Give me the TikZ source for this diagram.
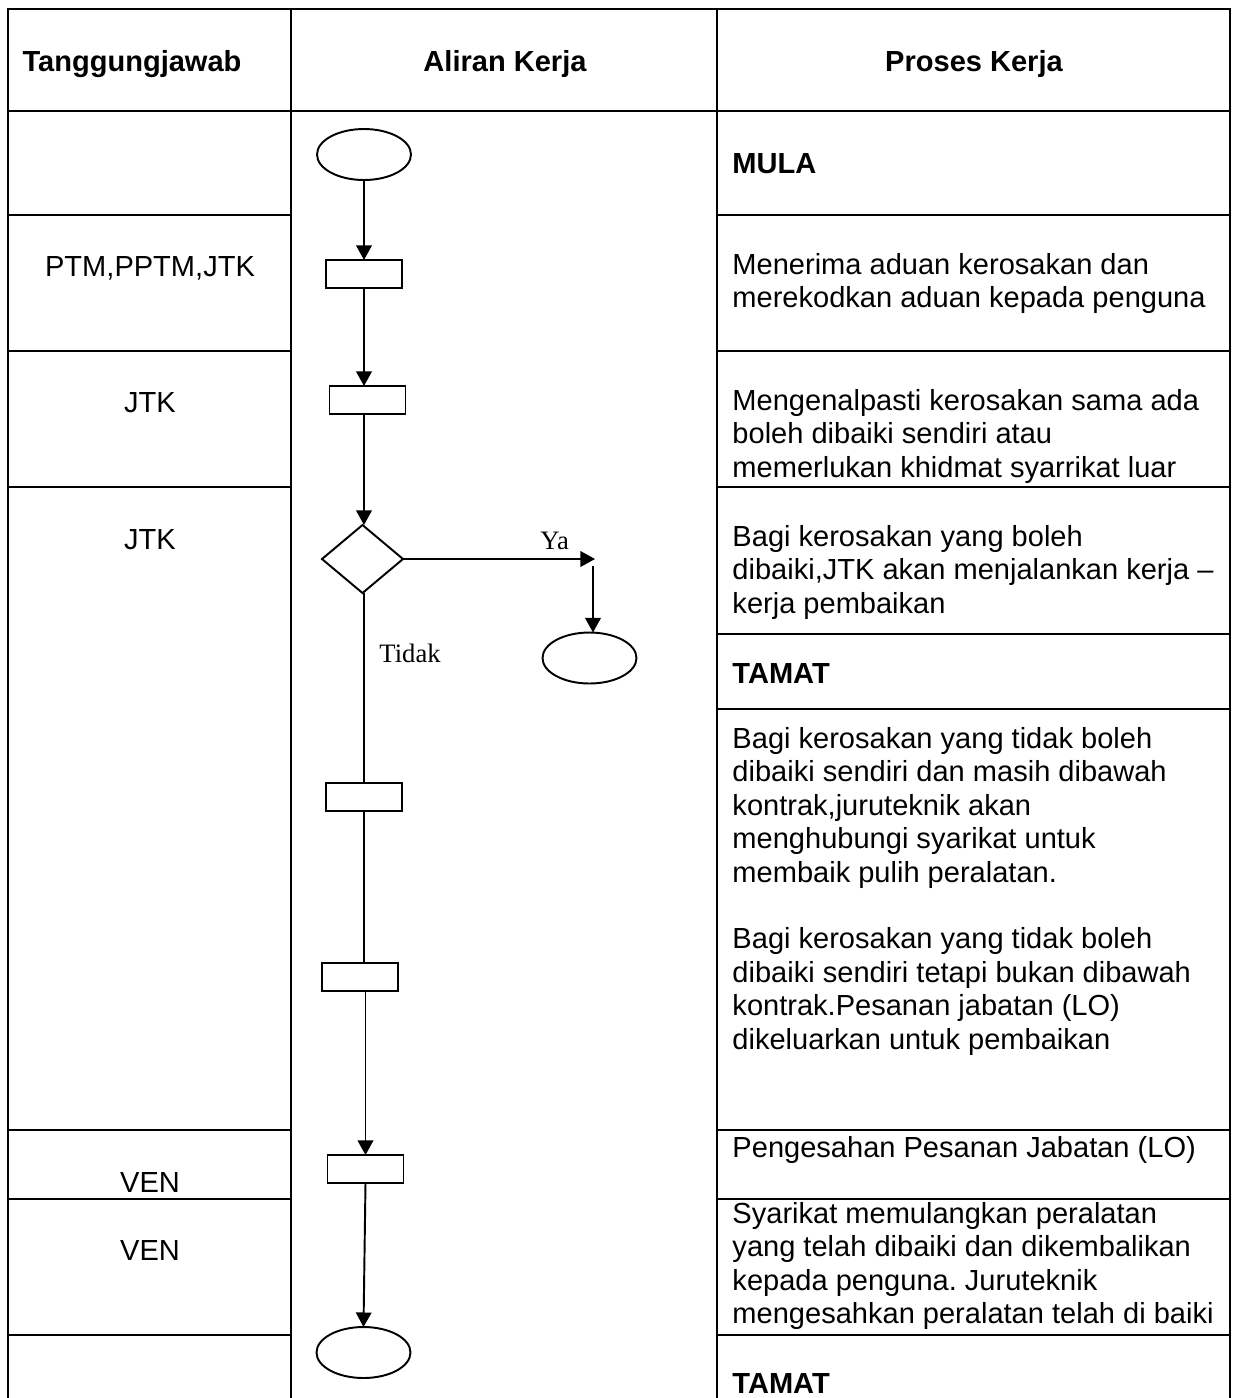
\documentclass[tikz,border=0pt]{standalone}
\usepackage{fontspec}
\setmainfont{Liberation Sans}
\newfontfamily\timesfont{Liberation Serif}
\usetikzlibrary{shapes.geometric, arrows.meta}
\frenchspacing

% one drawing unit
\newdimen\pxu \pxu=0.4132pt

\begin{document}
\begin{tikzpicture}[x=0.4132pt, y=-0.4132pt,
  grid/.style={line width=1.15pt, line cap=rect},
  flow/.style={line width=0.8pt},
  arr/.style={flow, -{Triangle[length=6pt, width=6.4pt]}},
  terminal/.style={draw, flow, ellipse, minimum width=94\pxu, minimum height=51\pxu, inner sep=0pt, outer sep=0pt},
  stepbox/.style={draw, flow, rectangle, minimum width=76\pxu, minimum height=28\pxu, inner sep=0pt, outer sep=0pt},
  decision/.style={draw, flow, diamond, minimum width=81\pxu, minimum height=68\pxu, inner sep=0pt, outer sep=0pt},
  % a cell is placed by the baseline of its first line
  cell/.style={anchor=north west, yshift=9.5pt, align=left, inner sep=0pt,
    font=\fontsize{12}{13.8}\selectfont, execute at begin node={\rule{0pt}{9.5pt}}},
  boldcell/.style={cell, font=\fontsize{12}{13.8}\selectfont\bfseries},
  who/.style={anchor=base, inner sep=0pt, font=\fontsize{12}{13.8}\selectfont},
  head/.style={anchor=base, inner sep=0pt, font=\fontsize{12}{13.8}\selectfont\bfseries},
  lbl/.style={anchor=base west, inner sep=0pt, font=\fontsize{11}{13}\selectfont\timesfont}
]
\useasboundingbox (0,0) rectangle (1233,1398);

% table frame
\foreach \cx in {8,291,717,1230} \draw[grid] (\cx,9) -- (\cx,1398);
\foreach \ry in {9,111} \draw[grid] (8,\ry) -- (1230,\ry);
\foreach \ry in {215,351,487,1130,1199,1335} \draw[grid] (8,\ry) -- (291,\ry);
\foreach \ry in {215,351,487,634,709,1130,1199,1335} \draw[grid] (717,\ry) -- (1230,\ry);

% headings
\node[head] (h1) at (132,71.5) {Tanggungjawab};
\node[head] (h2) at (505,71.5) {Aliran Kerja};
\node[head] (h3) at (974,71.5) {Proses Kerja};

% responsibility column
\node[who] (w1) at (150,276) {PTM,PPTM,JTK};
\node[who] (w2) at (150,412) {JTK};
\node[who] (w3) at (150,549) {JTK};
\node[who] (w4) at (150,1192) {VEN};
\node[who] (w5) at (150,1260) {VEN};

% process column
\node[boldcell] (p0) at (732,173) {MULA};
\node[cell] (p1) at (732,276) {Menerima aduan kerosakan dan\\merekodkan aduan kepada penguna};
\node[cell] (p2) at (732,412) {Mengenalpasti kerosakan sama ada\\boleh dibaiki sendiri atau\\memerlukan khidmat syarrikat luar};
\node[cell] (p3) at (732,548) {Bagi kerosakan yang boleh\\dibaiki,JTK akan menjalankan kerja --\\kerja pembaikan};
\node[boldcell] (p4) at (732,683) {TAMAT};
\node[cell] (p5) at (732,750) {Bagi kerosakan yang tidak boleh\\dibaiki sendiri dan masih dibawah\\kontrak,juruteknik akan\\menghubungi syarikat untuk\\membaik pulih peralatan.\\[13.8pt]Bagi kerosakan yang tidak boleh\\dibaiki sendiri tetapi bukan dibawah\\kontrak.Pesanan jabatan (LO)\\dikeluarkan untuk pembaikan};
\node[cell] (p6) at (732,1157) {Pengesahan Pesanan Jabatan (LO)};
\node[cell] (p7) at (732,1225) {Syarikat memulangkan peralatan\\yang telah dibaiki dan dikembalikan\\kepada penguna. Juruteknik\\mengesahkan peralatan telah di baiki};
\node[boldcell] (p8) at (732,1393) {TAMAT};

% flow chart
\node[terminal] (start) at (364,154.5) {};
\node[stepbox] (s1) at (364,274) {};
\node[stepbox] (s2) at (367.5,400) {};
\node[decision] (d) at (362.5,559) {};
\coordinate (ya) at (595,559);
\coordinate (yadown) at (593,566);
\node[terminal] (endA) at (589.5,658) {};
\node[stepbox] (s3) at (364,797) {};
\node[stepbox] (s4) at (360,977) {};
\node[stepbox] (s5) at (365.5,1169) {};
\node[terminal] (endB) at (363.5,1352.5) {};

\draw[arr] (start.south) -- (s1.north);
\draw[arr] (s1.south) -- (s1.south |- s2.north);
\draw[arr] (s1.south |- s2.south) -- (s1.south |- d.north);
\draw[arr] (d.east) -- (ya);
\draw[arr] (yadown) -- (yadown |- endA.north);
\draw[flow] (s3.north |- d.south) -- (s3.north);
\draw[flow] (s3.south) -- (s3.south |- s4.north);
\draw[arr] (s5.north |- s4.south) -- (s5.north);
\draw[arr] (s5.south) -- (endB.north);

\node[lbl] (ylab) at (540,549) {Ya};
\node[lbl] (tlab) at (379,662) {Tidak};
\end{tikzpicture}
\end{document}
